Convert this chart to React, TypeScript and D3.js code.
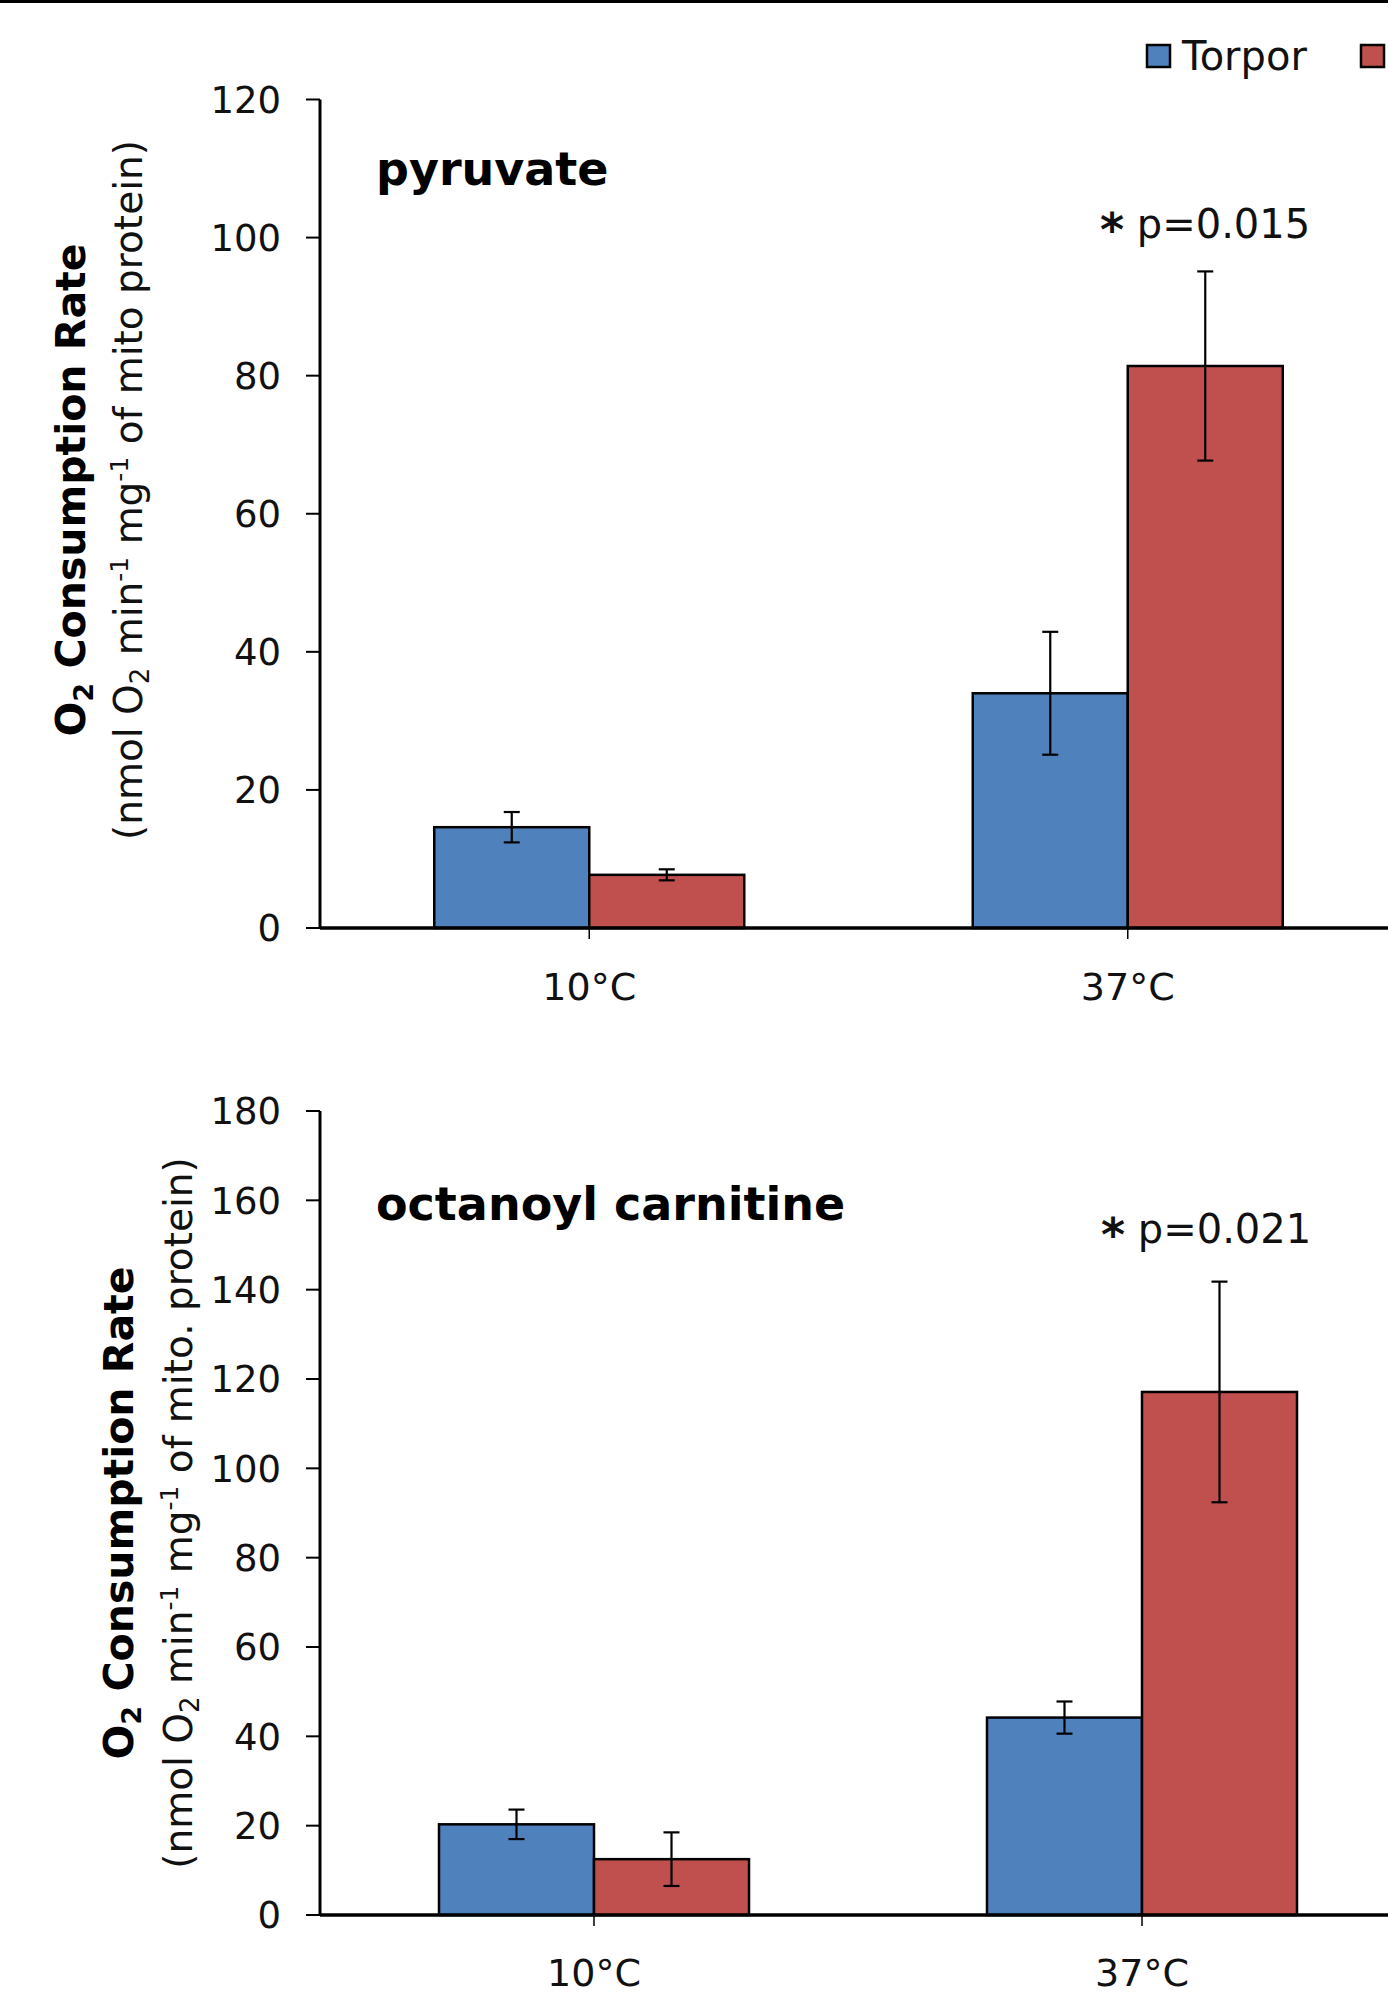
import React from "react";
import * as d3 from "d3";

const categories = ["10°C", "37°C"];
const seriesNames = ["Torpor", "IBA"];
const seriesColors = ["#4F81BD", "#C0504D"];

const pyruvateTorpor = [14.6, 34.0];
const pyruvateTorporErr = [2.2, 8.9];
const pyruvateIBA = [7.7, 81.4];
const pyruvateIBAErr = [0.8, 13.7];
const pyruvateTicks = [0, 20, 40, 60, 80, 100, 120];

const octTorpor = [20.3, 44.2];
const octTorporErr = [3.3, 3.6];
const octIBA = [12.5, 117.1];
const octIBAErr = [6.0, 24.7];
const octTicks = [0, 20, 40, 60, 80, 100, 120, 140, 160, 180];

const FONT = "'DejaVu Sans', sans-serif";
const W = 1388;
const H = 2003;

type PanelProps = {
  title: string;
  titleY: number;
  pText: string;
  pX: number;
  pY: number;
  values: number[][];
  errors: number[][];
  ticks: number[];
  yTop: number;
  yBottom: number;
  step: number;
  catLabelY: number;
  boldLabelX: number;
  unitLabelX: number;
  labelCenter: number;
  unitText: React.ReactNode;
};

function Panel(p: PanelProps) {
  const axisX = 320;
  const maxV = p.ticks[p.ticks.length - 1];
  const y = d3.scaleLinear().domain([0, maxV]).range([p.yBottom, p.yTop]);
  const x = d3
    .scaleBand<string>()
    .domain(categories)
    .range([axisX, axisX + 2 * p.step])
    .paddingInner(0)
    .paddingOuter(0);
  const barW = 155;
  const xs = d3
    .scaleBand<string>()
    .domain(seriesNames)
    .range([0, 2 * barW])
    .padding(0);

  return (
    <g>
      {/* bars */}
      {categories.map((c, ci) =>
        seriesNames.map((s, si) => {
          const v = p.values[si][ci];
          const bx = (x(c) as number) + x.bandwidth() / 2 - barW + (xs(s) as number);
          return (
            <rect
              key={c + s}
              x={bx}
              y={y(v)}
              width={xs.bandwidth()}
              height={y(0) - y(v)}
              fill={seriesColors[si]}
              stroke="#000"
              strokeWidth={2.5}
            />
          );
        })
      )}
      {/* error bars */}
      {categories.map((c, ci) =>
        seriesNames.map((s, si) => {
          const v = p.values[si][ci];
          const e = p.errors[si][ci];
          const cx =
            (x(c) as number) + x.bandwidth() / 2 - barW + (xs(s) as number) + xs.bandwidth() / 2;
          return (
            <g key={"e" + c + s} stroke="#000" strokeWidth={2.2}>
              <line x1={cx} x2={cx} y1={y(v + e)} y2={y(v - e)} />
              <line x1={cx - 8} x2={cx + 8} y1={y(v + e)} y2={y(v + e)} />
              <line x1={cx - 8} x2={cx + 8} y1={y(v - e)} y2={y(v - e)} />
            </g>
          );
        })
      )}
      {/* y axis */}
      <line x1={axisX} x2={axisX} y1={y(maxV)} y2={y(0)} stroke="#000" strokeWidth={3} />
      {p.ticks.map((t) => (
        <g key={"t" + t}>
          <line x1={axisX - 14} x2={axisX} y1={y(t)} y2={y(t)} stroke="#000" strokeWidth={2} />
          <text
            x={281}
            y={y(t)}
            dy="0.36em"
            textAnchor="end"
            fontFamily={FONT}
            fontSize={37}
            fill="#111"
          >
            {t}
          </text>
        </g>
      ))}
      {/* x axis */}
      <line x1={axisX} x2={W + 10} y1={y(0)} y2={y(0)} stroke="#000" strokeWidth={3.5} />
      {categories.map((c) => {
        const cx = (x(c) as number) + x.bandwidth() / 2;
        return (
          <g key={"c" + c}>
            <line x1={cx} x2={cx} y1={y(0)} y2={y(0) + 11} stroke="#000" strokeWidth={1.5} />
            <text
              x={cx}
              y={p.catLabelY}
              textAnchor="middle"
              fontFamily={FONT}
              fontSize={38}
              fill="#111"
            >
              {c}
            </text>
          </g>
        );
      })}
      {/* title */}
      <text x={376} y={p.titleY} fontFamily={FONT} fontWeight="bold" fontSize={46} fill="#000">
        {p.title}
      </text>
      {/* significance */}
      <text x={p.pX} y={p.pY} fontFamily={FONT} fontSize={40} fill="#111">
        <tspan fontWeight="bold" fontSize={46} dy={8}>
          *
        </tspan>
        <tspan dy={-8}>{" " + p.pText}</tspan>
      </text>
      {/* y labels */}
      <text
        transform={`translate(${p.boldLabelX},${p.labelCenter}) rotate(-90)`}
        textAnchor="middle"
        fontFamily={FONT}
        fontWeight="bold"
        fontSize={41}
        fill="#000"
      >
        O<tspan fontSize={27} dy={8}>2</tspan>
        <tspan dy={-8}> Consumption Rate</tspan>
      </text>
      <text
        transform={`translate(${p.unitLabelX},${p.labelCenter}) rotate(-90)`}
        textAnchor="middle"
        fontFamily={FONT}
        fontSize={39}
        fill="#111"
      >
        {p.unitText}
      </text>
    </g>
  );
}

function unitLabel(period: boolean) {
  return (
    <>
      (nmol O<tspan fontSize={26} dy={7}>2</tspan>
      <tspan dy={-7}> min</tspan>
      <tspan fontSize={25} dy={-14}>-1</tspan>
      <tspan dy={14}> mg</tspan>
      <tspan fontSize={25} dy={-14}>-1</tspan>
      <tspan dy={14}>{period ? " of mito. protein)" : "  of mito protein)"}</tspan>
    </>
  );
}

export default function App() {
  React.useEffect(() => {
    document.body.style.margin = "0";
    document.body.style.overflow = "hidden";
  }, []);
  return (
    <svg
      width={W}
      height={H}
      viewBox={`0 0 ${W} ${H}`}
      style={{ position: "absolute", left: 0, top: 0, background: "#fff" }}
    >
      <rect x={0} y={0} width={W} height={H} fill="#fff" />
      <rect x={0} y={0} width={W} height={3} fill="#000" />
      {/* legend (second label lies beyond the right edge, as in the original crop) */}
      {seriesNames.map((s, i) => {
        const lx = 1147 + i * 214;
        const tx = lx + 35;
        return (
          <g key={s}>
            <rect x={lx} y={45} width={23} height={22} fill={seriesColors[i]} stroke="#000" strokeWidth={2.5} />
            {tx < W ? (
              <text x={tx} y={70} fontFamily={FONT} fontSize={40} fill="#111">
                {s}
              </text>
            ) : null}
          </g>
        );
      })}
      <Panel
        title="pyruvate"
        titleY={185}
        pText="p=0.015"
        pX={1100}
        pY={238}
        values={[pyruvateTorpor, pyruvateIBA]}
        errors={[pyruvateTorporErr, pyruvateIBAErr]}
        ticks={pyruvateTicks}
        yTop={99.5}
        yBottom={928}
        step={538.5}
        catLabelY={1000}
        boldLabelX={85}
        unitLabelX={142}
        labelCenter={490}
        unitText={unitLabel(false)}
      />
      <Panel
        title="octanoyl carnitine"
        titleY={1220}
        pText="p=0.021"
        pX={1101}
        pY={1243}
        values={[octTorpor, octIBA]}
        errors={[octTorporErr, octIBAErr]}
        ticks={octTicks}
        yTop={1111}
        yBottom={1915}
        step={548}
        catLabelY={1986}
        boldLabelX={133}
        unitLabelX={192}
        labelCenter={1513}
        unitText={unitLabel(true)}
      />
    </svg>
  );
}
